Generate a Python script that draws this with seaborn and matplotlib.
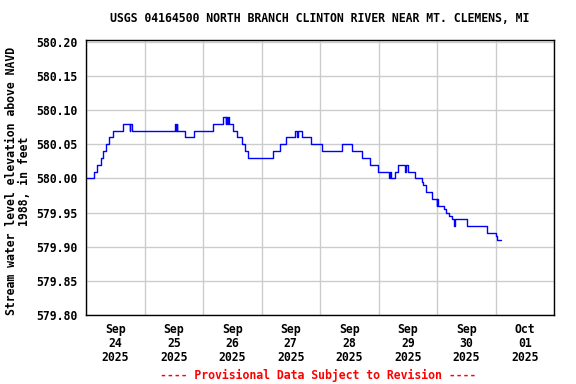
import numpy as np
import pandas as pd
import matplotlib
matplotlib.use("Agg")
from matplotlib import pyplot as plt
import matplotlib.dates as mdates
import seaborn as sns

# step breakpoints: hours after 2025-09-24 00:00 and gage elevation (ft)
hours = [0.0, 3.3, 4.5, 6.0, 7.1, 8.2, 9.4, 11.1, 15.3, 18.0, 18.2, 18.7,
         36.5, 36.75, 37.25, 37.5, 40.6, 44.4, 52.0, 56.1, 57.3, 57.5, 57.7,
         58.1, 58.7, 60.3, 61.8, 63.9, 65.2, 66.6, 76.8, 79.6, 82.1, 85.7,
         86.4, 87.0, 88.5, 92.2, 96.9, 104.9, 109.0, 113.1, 116.5, 119.9,
         124.5, 124.9, 125.3, 126.8, 128.1, 130.9, 131.3, 132.2, 135.0,
         137.7, 138.4, 139.5, 141.8, 143.9, 144.2, 144.4, 146.9, 147.7,
         149.0, 150.0, 151.0, 151.2, 156.4, 164.6, 168.2, 168.7, 170.1]
elev = [580.00, 580.01, 580.02, 580.03, 580.04, 580.05, 580.06, 580.07, 580.08, 580.07, 580.08, 580.07,
        580.08, 580.07, 580.08, 580.07, 580.06, 580.07, 580.08, 580.09, 580.08, 580.09, 580.08,
        580.09, 580.08, 580.07, 580.06, 580.05, 580.04, 580.03, 580.04, 580.05, 580.06, 580.07,
        580.06, 580.07, 580.06, 580.05, 580.04, 580.05, 580.04, 580.03, 580.02, 580.01,
        580.00, 580.01, 580.00, 580.01, 580.02, 580.01, 580.02, 580.01, 580.00,
        579.995, 579.99, 579.98, 579.97, 579.96, 579.97, 579.96, 579.955, 579.95,
        579.945, 579.94, 579.93, 579.94, 579.93, 579.92, 579.915, 579.91, 579.91]

y_ticks = [579.80, 579.85, 579.90, 579.95, 580.00, 580.05, 580.10, 580.15, 580.20]

start = pd.Timestamp("2025-09-24")
df = pd.DataFrame({"time": start + pd.to_timedelta(hours, unit="h"), "elev": elev})

sns.set_style("white")
plt.rcParams["font.family"] = ["DejaVu Sans Mono"]
plt.rcParams["font.weight"] = "bold"
plt.rcParams["font.size"] = 8.3
for key in ["text.color", "axes.labelcolor", "xtick.color", "ytick.color"]:
    plt.rcParams[key] = "black"

fig = plt.figure(figsize=(5.76, 3.84), dpi=100)
ax = fig.add_axes([86 / 576, 1 - 315 / 384, 468 / 576, 275 / 384])

sns.lineplot(data=df, x="time", y="elev", drawstyle="steps-post", color="#0000ff",
             linewidth=1, estimator=None, ax=ax)

ax.set_xlim(start, start + pd.Timedelta(days=8))
ax.set_ylim(579.80, 580.2025)
ax.set_yticks(y_ticks)
ax.set_yticklabels([f"{v:.2f}" for v in y_ticks])

ax.xaxis.set_major_locator(mdates.HourLocator(byhour=12))
ax.xaxis.set_major_formatter(mdates.DateFormatter("%b\n%d\n%Y"))
ax.xaxis.set_minor_locator(mdates.DayLocator())
for lab in ax.get_xticklabels():
    lab.set_linespacing(1.1)

ax.grid(True, which="minor", axis="x", color="#cccccc", linewidth=1)
ax.grid(True, which="major", axis="y", color="#cccccc", linewidth=1)
ax.grid(False, which="major", axis="x")
ax.set_axisbelow(True)
ax.tick_params(axis="both", which="both", length=0, colors="black")
ax.tick_params(axis="x", pad=6)
ax.tick_params(axis="y", pad=6)
for s in ax.spines.values():
    s.set_color("black")
    s.set_linewidth(1)

ax.set_xlabel("")
ax.set_ylabel("")
fig.text(18 / 576, 1 - 181 / 384, "Stream water level elevation above NAVD\n1988, in feet",
         rotation=90, ha="center", va="center", multialignment="center", linespacing=1.0)
fig.text(320 / 576, 1 - 19 / 384, "USGS 04164500 NORTH BRANCH CLINTON RIVER NEAR MT. CLEMENS, MI",
         ha="center", va="center")
fig.text(318 / 576, 1 - 375 / 384, "---- Provisional Data Subject to Revision ----",
         ha="center", va="center", color="red")

fig.savefig("out.png", dpi=100)
